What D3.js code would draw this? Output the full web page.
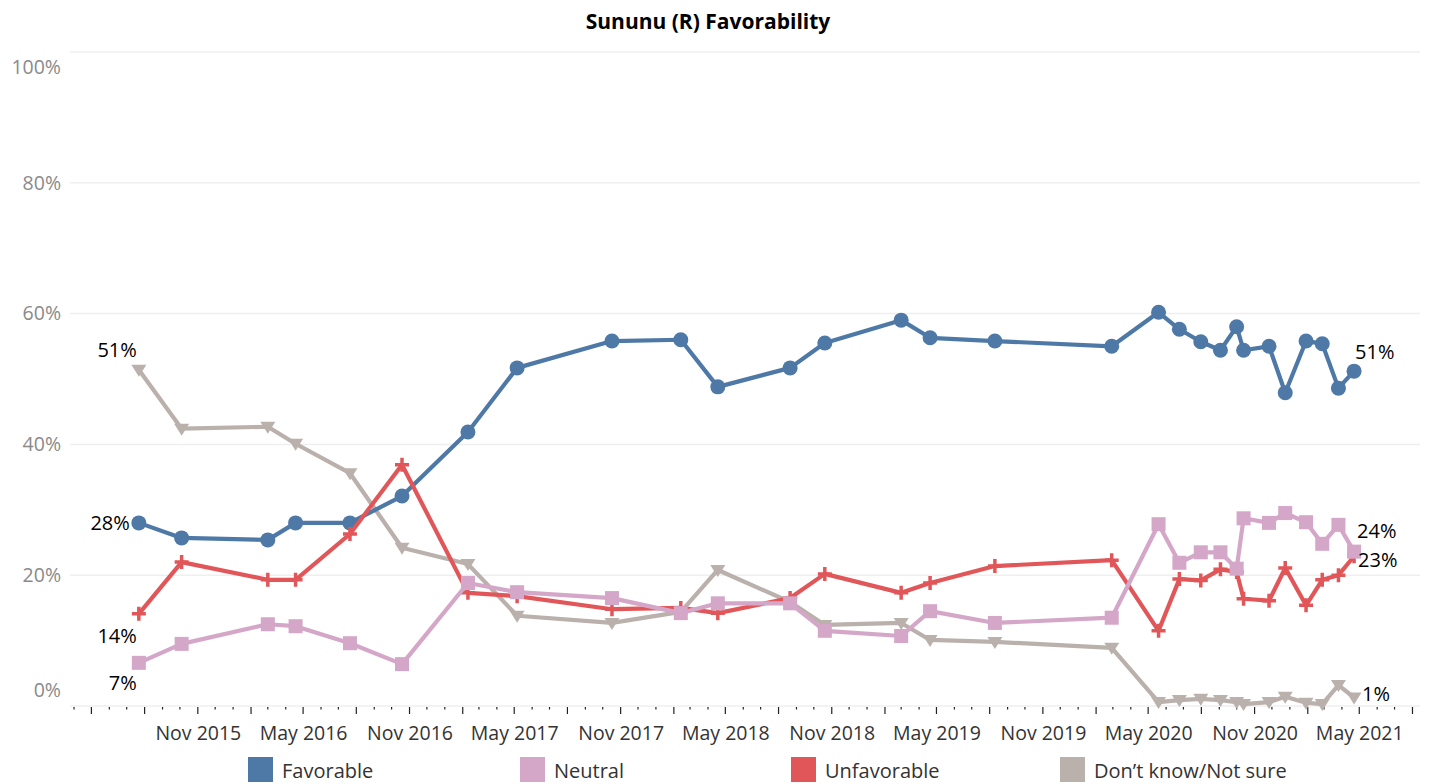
<!DOCTYPE html>
<html>
<head>
<meta charset="utf-8">
<script src="https://cdn.jsdelivr.net/npm/d3@7"></script>
<style>
  body { margin: 0; background: #fff; }
  svg { display: block; font-family: "Open Sans", "Noto Sans", sans-serif; }
</style>
</head>
<body>
<div id="chart"></div>
<script>
// survey dates
const dates = [
  "2015-07-22", "2015-10-04", "2016-03-01", "2016-04-18", "2016-07-21", "2016-10-19",
  "2017-02-10", "2017-05-06", "2017-10-17", "2018-02-13", "2018-04-18", "2018-08-21",
  "2018-10-20", "2019-03-01", "2019-04-20", "2019-08-10", "2020-02-28", "2020-05-19",
  "2020-06-24", "2020-07-31", "2020-09-03", "2020-10-01", "2020-10-13", "2020-11-26",
  "2020-12-24", "2021-01-29", "2021-02-26", "2021-03-26", "2021-04-22"
];

const favorable = [28.0, 25.7, 25.4, 28.0, 28.0, 32.1, 41.9, 51.7, 55.8, 56.0, 48.8, 51.7,
  55.5, 59.0, 56.3, 55.8, 55.0, 60.2, 57.6, 55.7, 54.4, 58.0, 54.4, 55.0, 47.9, 55.8, 55.4, 48.6, 51.2];

const neutral = [6.6, 9.5, 12.5, 12.2, 9.6, 6.4, 18.8, 17.4, 16.5, 14.2, 15.7, 15.7,
  11.5, 10.7, 14.5, 12.7, 13.5, 27.8, 21.9, 23.5, 23.5, 21.0, 28.7, 28.0, 29.5, 28.1, 24.8, 27.7, 23.6];

const unfavorable = [14.1, 22.0, 19.3, 19.3, 26.3, 36.9, 17.3, 16.8, 14.8, 15.0, 14.2, 16.5,
  20.2, 17.3, 18.8, 21.4, 22.3, 11.5, 19.4, 19.2, 20.9, 20.5, 16.4, 16.1, 21.1, 15.4, 19.3, 20.0, 22.9];

const dontKnow = [51.4, 42.4, 42.7, 40.1, 35.6, 24.2, 21.7, 13.8, 12.7, 14.4, 20.8, 15.9,
  12.4, 12.7, 10.1, 9.8, 8.9, 0.6, 0.9, 1.1, 0.9, 0.6, 0.3, 0.6, 1.4, 0.5, 0.3, 3.2, 1.3];

const seriesNames = ["Favorable", "Neutral", "Unfavorable", "Don\u2019t know/Not sure"];
const yTicks = [0, 20, 40, 60, 80, 100];
const xLabelTicks = ["2015-11-01", "2016-05-01", "2016-11-01", "2017-05-01", "2017-11-01", "2018-05-01",
  "2018-11-01", "2019-05-01", "2019-11-01", "2020-05-01", "2020-11-01", "2021-05-01"];

const width = 1430, height = 784;
const colors = { Favorable: "#4e79a7", Neutral: "#d4a6c8", Unfavorable: "#e15759", "Don\u2019t know/Not sure": "#bab0ac" };

const parse = d3.timeParse("%Y-%m-%d");
const x = d3.scaleTime()
  .domain([parse("2015-03-25"), parse("2021-08-14")])
  .range([70, 1420]);
const y = d3.scaleLinear().domain([0, 100]).range([706, 52]);

const svg = d3.select("#chart").append("svg")
  .attr("width", width)
  .attr("height", height);

// titulo
svg.append("text")
  .attr("x", 708).attr("y", 21)
  .attr("text-anchor", "middle")
  .attr("dominant-baseline", "central")
  .style("font-size", "21px")
  .style("font-weight", 700)
  .style("fill", "#000")
  .text("Sununu (R) Favorability");

// grid
svg.append("g")
  .selectAll("line")
  .data(yTicks)
  .join("line")
  .attr("x1", 70).attr("x2", 1420)
  .attr("y1", d => y(d)).attr("y2", d => y(d))
  .attr("stroke", "#efefef")
  .attr("stroke-width", 1.5);

// y labels
const yAxis = svg.append("g")
  .attr("transform", "translate(61,0)")
  .call(d3.axisLeft(y).tickValues(yTicks).tickSize(0).tickPadding(0).tickFormat(d => d + "%"));
yAxis.select(".domain").remove();
yAxis.selectAll("text")
  .style("font-size", "19.5px")
  .style("font-family", "\"Open Sans\", sans-serif")
  .style("fill", "#8a8a8a")
  .attr("dy", d => d === 0 ? "-0.5em" : "0.32em")
  .attr("y", d => d === 100 ? 15 : 0);

// x ticks: monthly minor, quarterly major
const months = d3.timeMonth.range(parse("2015-04-01"), parse("2021-08-15"));
svg.append("g")
  .selectAll("line")
  .data(months)
  .join("line")
  .attr("x1", d => x(d)).attr("x2", d => x(d))
  .attr("y1", 707)
  .attr("y2", d => d.getMonth() % 3 === 1 ? 714 : 709.5)
  .attr("stroke", "#222")
  .attr("stroke-width", 1.2);

const xAxis = svg.append("g")
  .attr("transform", "translate(0,706)")
  .call(d3.axisBottom(x)
    .tickValues(xLabelTicks.map(parse))
    .tickSize(0)
    .tickPadding(20)
    .tickFormat(d3.timeFormat("%b %Y")));
xAxis.select(".domain").remove();
xAxis.selectAll("text")
  .style("font-size", "19.5px")
  .style("font-family", "\"Open Sans\", sans-serif")
  .style("fill", "#333");

// series
const allSeries = [
  { name: "Don\u2019t know/Not sure", values: dontKnow, shape: "tri" },
  { name: "Favorable", values: favorable, shape: "circle" },
  { name: "Unfavorable", values: unfavorable, shape: "plus" },
  { name: "Neutral", values: neutral, shape: "square" }
];

const line = d3.line()
  .x(d => x(d.date))
  .y(d => y(d.value));

allSeries.forEach(s => {
  const pts = dates.map((d, i) => ({ date: parse(d), value: s.values[i] }));
  const c = colors[s.name];
  const g = svg.append("g");
  g.append("path")
    .datum(pts)
    .attr("d", line)
    .attr("fill", "none")
    .attr("stroke", c)
    .attr("stroke-width", 4.2)
    .attr("stroke-linejoin", "round");

  const m = g.selectAll(".m").data(pts).join("g")
    .attr("transform", d => `translate(${x(d.date)},${y(d.value)})`);
  if (s.shape === "circle") {
    m.append("circle").attr("r", 7.5).attr("fill", c);
  } else if (s.shape === "square") {
    m.append("rect").attr("x", -7).attr("y", -7).attr("width", 14).attr("height", 14).attr("fill", c);
  } else if (s.shape === "plus") {
    m.append("path").attr("d", "M-7,0H7M0,-7V7").attr("stroke", c).attr("stroke-width", 3.5);
  } else {
    m.append("path").attr("d", "M-7.5,-5L7.5,-5L0,7Z").attr("fill", c);
  }
});

// etiquetas de inicio y fin
const fmt = v => Math.round(v) + "%";
const labelStyle = [
  { values: dontKnow, start: [-2, -20], end: [8, -4] },
  { values: favorable, start: [-9, 0], end: [1, -20] },
  { values: unfavorable, start: [-2, 22], end: [4, 3] },
  { values: neutral, start: [-2, 20], end: [3, -21] }
];
const first = parse(dates[0]), last = parse(dates[dates.length - 1]);
labelStyle.forEach(l => {
  const v0 = l.values[0], v1 = l.values[l.values.length - 1];
  svg.append("text")
    .attr("x", x(first) + l.start[0])
    .attr("y", y(v0) + l.start[1])
    .attr("text-anchor", "end")
    .attr("dominant-baseline", "central")
    .style("font-size", "20px")
    .style("fill", "#000")
    .text(fmt(v0));
  svg.append("text")
    .attr("x", x(last) + l.end[0])
    .attr("y", y(v1) + l.end[1])
    .attr("text-anchor", "start")
    .attr("dominant-baseline", "central")
    .style("font-size", "20px")
    .style("fill", "#000")
    .text(fmt(v1));
});

// leyenda
const legendX = [248, 520, 791, 1060];
const legend = svg.append("g")
  .selectAll("g")
  .data(seriesNames)
  .join("g")
  .attr("transform", (d, i) => `translate(${legendX[i]},757)`);
legend.append("rect")
  .attr("width", 25).attr("height", 25)
  .attr("fill", d => colors[d]);
legend.append("text")
  .attr("x", 34).attr("y", 13)
  .attr("dominant-baseline", "central")
  .style("font-size", "20px")
  .style("fill", "#333")
  .text(d => d);
</script>
</body>
</html>
